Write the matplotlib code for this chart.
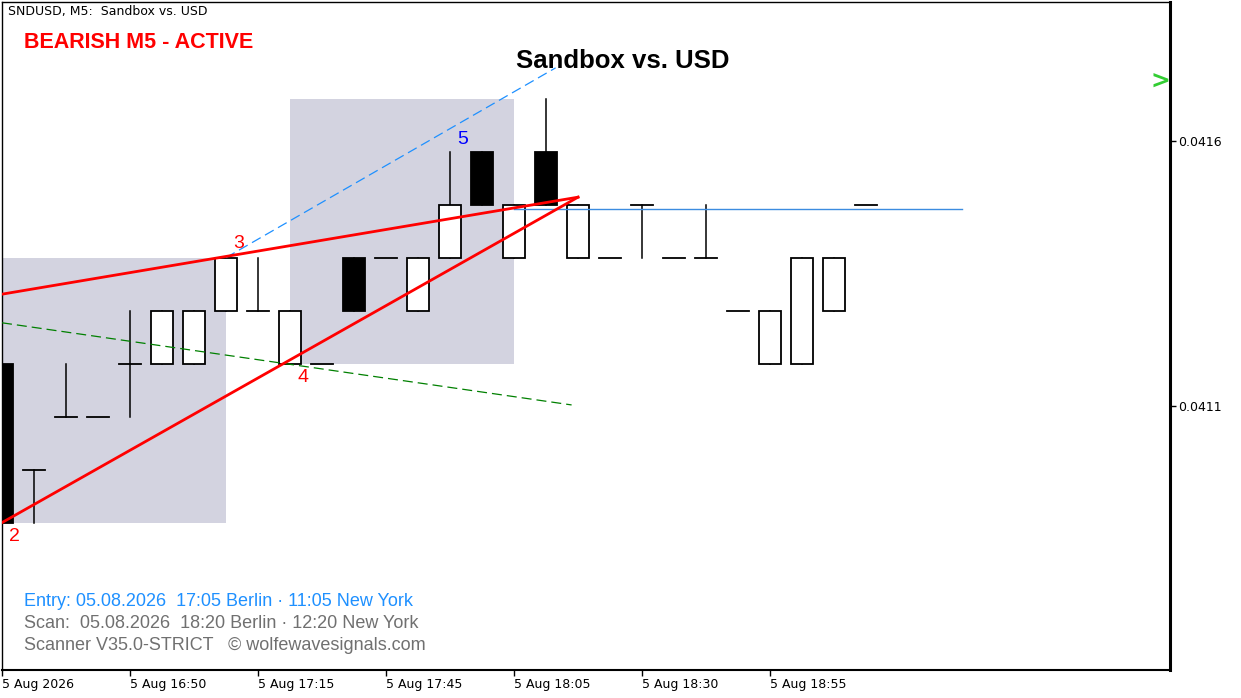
import matplotlib
matplotlib.use("Agg")
import matplotlib.pyplot as plt
from matplotlib.patches import Rectangle

# candles (index = bar number, M5)
opens = [0.04118, 0.04098, 0.04108, 0.04108, 0.04118, 0.04118, 0.04118, 0.04128,
         0.04128, 0.04118, 0.04118, 0.04138, 0.04138, 0.04128, 0.04138, 0.04158,
         0.04138, 0.04158, 0.04138, 0.04138, 0.04148, 0.04138, 0.04138, 0.04128,
         0.04118, 0.04118, 0.04128, 0.04148]
highs = [0.04118, 0.04098, 0.04118, 0.04108, 0.04128, 0.04128, 0.04128, 0.04138,
         0.04138, 0.04128, 0.04118, 0.04138, 0.04138, 0.04138, 0.04158, 0.04158,
         0.04148, 0.04168, 0.04148, 0.04138, 0.04148, 0.04138, 0.04148, 0.04128,
         0.04128, 0.04138, 0.04138, 0.04148]
lows = [0.04088, 0.04088, 0.04108, 0.04108, 0.04108, 0.04118, 0.04118, 0.04128,
        0.04128, 0.04118, 0.04118, 0.04128, 0.04138, 0.04128, 0.04138, 0.04148,
        0.04138, 0.04148, 0.04138, 0.04138, 0.04138, 0.04138, 0.04138, 0.04128,
        0.04118, 0.04118, 0.04128, 0.04148]
closes = [0.04088, 0.04098, 0.04108, 0.04108, 0.04118, 0.04128, 0.04128, 0.04138,
          0.04128, 0.04128, 0.04118, 0.04128, 0.04138, 0.04138, 0.04148, 0.04148,
          0.04148, 0.04148, 0.04148, 0.04138, 0.04148, 0.04138, 0.04138, 0.04128,
          0.04128, 0.04138, 0.04138, 0.04148]

xtick_pos = [0, 4, 8, 12, 16, 20, 24]
xtick_labels = ["5 Aug 2026", "5 Aug 16:50", "5 Aug 17:15", "5 Aug 17:45",
                "5 Aug 18:05", "5 Aug 18:30", "5 Aug 18:55"]
ytick_pos = [0.0416, 0.0411]

# wolfe wave pieces: (bar, price)
line_24 = [(0, 0.04088), (18, 0.041494)]
line_13 = [(0, 0.041311), (18, 0.041494)]
line_35 = [(7, 0.04138), (17.3, 0.041738)]
line_green = [(0, 0.041257), (17.8, 0.041102)]
level_line = [(16, 0.041472), (30, 0.041472)]
zones = [(0, 7, 0.04088, 0.04138), (9, 16, 0.04118, 0.04168)]
points = {"2": (0, 0.04088), "3": (7, 0.04138), "4": (9, 0.04118), "5": (15, 0.04158)}

W, H = 1241, 698
fig = plt.figure(figsize=(W / 100, H / 100), dpi=100)
ax = fig.add_axes([2 / W, 28 / H, 1168 / W, 668 / H])
ax.set_xlim(0, 36.5)
ax.set_ylim(0.04060189, 0.04186226)

# zones
for x0, x1, p0, p1 in zones:
    ax.add_patch(Rectangle((x0, p0), x1 - x0, p1 - p0, facecolor="#d3d3e0",
                           edgecolor="none", zorder=0))

# candles
bw = 0.69
for i, (o, h, l, c) in enumerate(zip(opens, highs, lows, closes)):
    if h > l:
        ax.plot([i, i], [l, h], color="black", lw=1.1, zorder=2)
    if o == c:
        ax.plot([i - bw / 2, i + bw / 2], [o, o], color="black", lw=1.3, zorder=2)
    else:
        fc = "white" if c > o else "black"
        ax.add_patch(Rectangle((i - bw / 2, min(o, c)), bw, abs(c - o),
                               facecolor=fc, edgecolor="black", lw=1.3, zorder=3))

# lines
def seg(pts, **kw):
    ax.plot([p[0] for p in pts], [p[1] for p in pts], **kw)

seg(line_green, color="#008000", lw=0.9, ls=(0, (8, 4)), zorder=4)
seg(line_35, color="#1e90ff", lw=0.9, ls=(0, (8, 4)), zorder=4)
seg(level_line, color="#3c8ce0", lw=1.0, zorder=4)
seg(line_24, color="#ff0000", lw=2.0, zorder=5)
seg(line_13, color="#ff0000", lw=2.0, zorder=5)

label_off = {"2": (9, -10), "3": (9, 10), "4": (9, -10), "5": (-14, 9)}
for k, (bx, by) in points.items():
    ax.annotate(k, (bx, by), xytext=label_off[k], textcoords="offset points",
                color="blue" if k == "5" else "#ff0000", fontsize=14,
                family="Liberation Sans", ha="center", va="center", zorder=6)

# axes styling
for s in ["top", "left"]:
    ax.spines[s].set_linewidth(1.0)
ax.spines["right"].set_linewidth(2.2)
ax.spines["bottom"].set_linewidth(1.5)
ax.yaxis.tick_right()
ax.set_yticks(ytick_pos)
ax.set_yticklabels([f"{v:.4f}" for v in ytick_pos], fontsize=9, family="DejaVu Sans")
ax.set_xticks(xtick_pos)
ax.set_xticklabels(xtick_labels, fontsize=9, family="DejaVu Sans", ha="left")
ax.tick_params(axis="both", length=4, width=1, pad=2)

# texts
def ftext(x, y, s, **kw):
    fig.text(x / W, 1 - y / H, s, **kw)

ftext(8, 12, "SNDUSD, M5:  Sandbox vs. USD", fontsize=9, family="DejaVu Sans",
      va="center")
ftext(24, 42, "BEARISH M5 - ACTIVE", fontsize=15.5, fontweight="bold",
      family="Liberation Sans", color="#ff0000", va="center")
ftext(623, 61, "Sandbox vs. USD", fontsize=18.5, fontweight="bold",
      family="Liberation Sans", color="black", ha="center", va="center")
ftext(1160, 82, ">", fontsize=17, fontweight="bold", family="DejaVu Sans",
      color="#32cd32", ha="center", va="center")
ftext(24, 601, "Entry: 05.08.2026  17:05 Berlin · 11:05 New York", fontsize=13,
      family="Liberation Sans", color="#1e90ff", va="center")
ftext(24, 623, "Scan:  05.08.2026  18:20 Berlin · 12:20 New York", fontsize=13,
      family="Liberation Sans", color="#707070", va="center")
ftext(24, 645, "Scanner V35.0-STRICT   © wolfewavesignals.com", fontsize=13,
      family="Liberation Sans", color="#707070", va="center")

fig.savefig("out.png", dpi=100)
